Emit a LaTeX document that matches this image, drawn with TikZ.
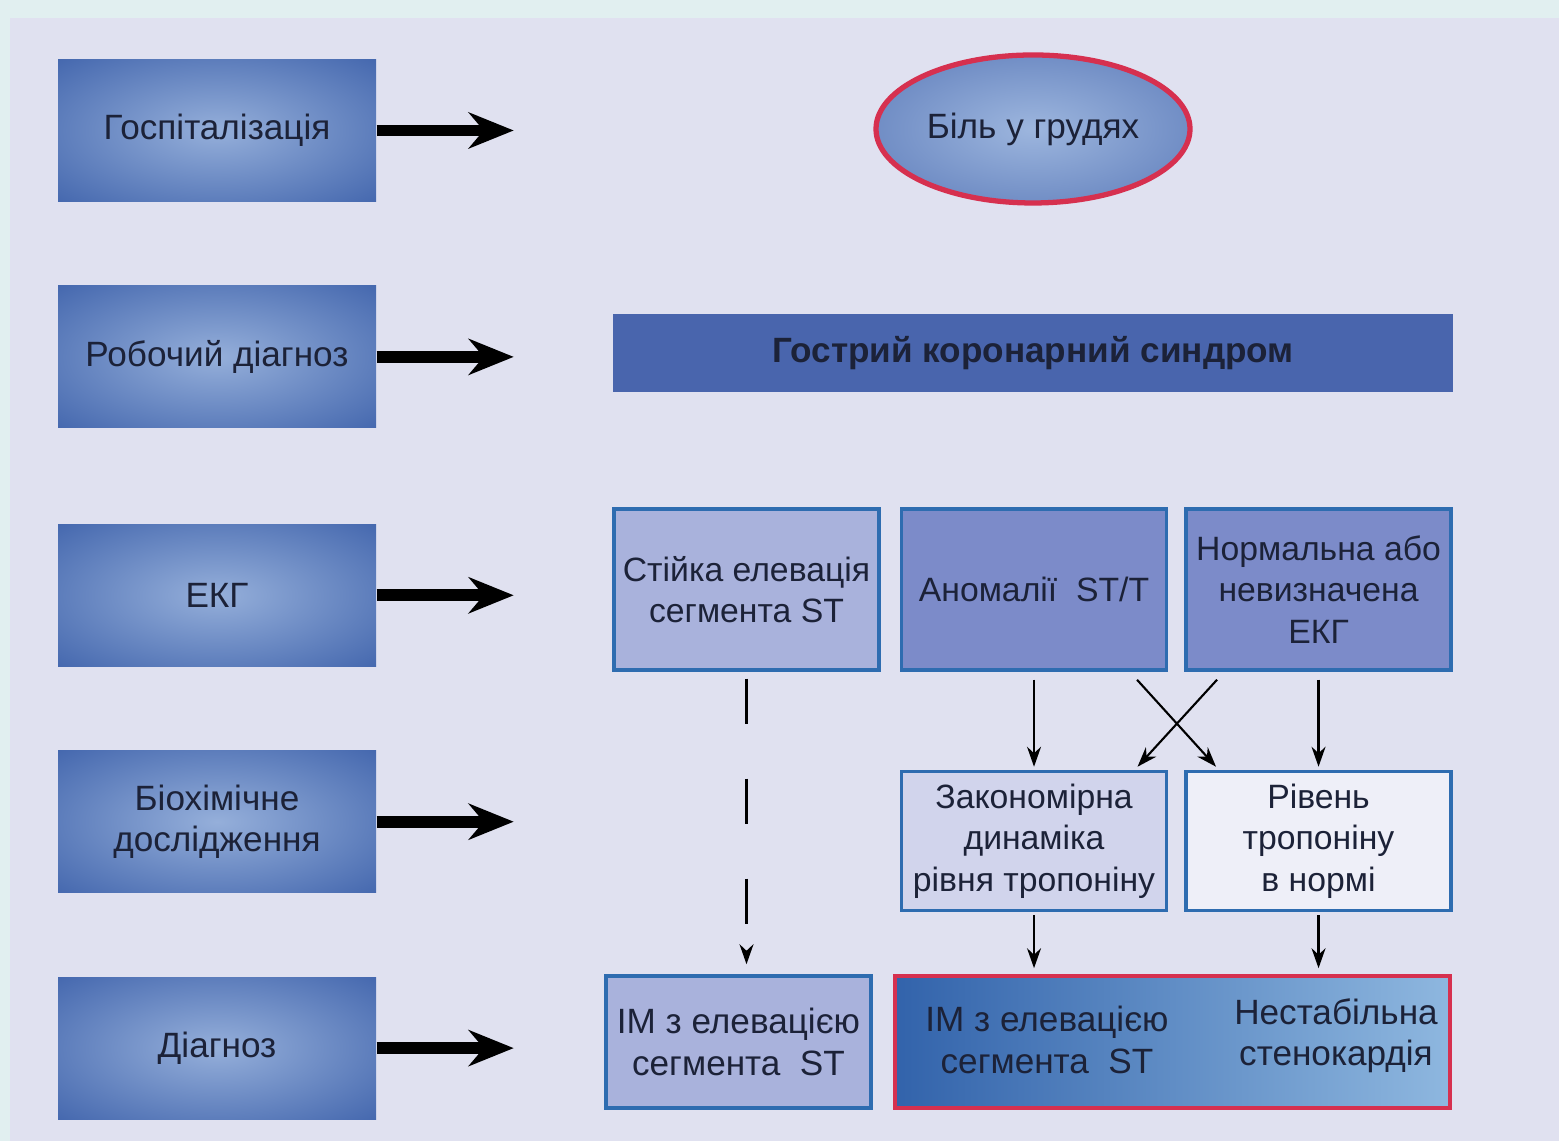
\documentclass[tikz,border=0pt]{standalone}
\usepackage{fontspec}
\setmainfont{Liberation Sans}
\usetikzlibrary{shapes.geometric,arrows.meta,positioning}

\definecolor{bgouter}{HTML}{E1EFF0}
\definecolor{bginner}{HTML}{E0E1F0}
\definecolor{boxlight}{HTML}{95AFDA}
\definecolor{boxdark}{HTML}{3B5FA9}
\definecolor{ovallight}{HTML}{9DB6DE}
\definecolor{ovaldark}{HTML}{4D6DB1}
\definecolor{redline}{HTML}{D6304F}
\definecolor{acsblue}{HTML}{4965AD}
\definecolor{frameblue}{HTML}{2E6CB0}
\definecolor{paleblue}{HTML}{A9B2DC}
\definecolor{midblue}{HTML}{7C8BC9}
\definecolor{faintblue}{HTML}{D1D4EC}
\definecolor{whiteblue}{HTML}{EEEFF8}
\definecolor{gradleft}{HTML}{3263AB}
\definecolor{gradright}{HTML}{8EB7DF}
\definecolor{inkblue}{HTML}{1C2238}

\pgfdeclareradialshading{stageglow}{\pgfpoint{0bp}{0bp}}{color(0bp)=(boxlight);
    color(40bp)=(boxdark); color(75bp)=(boxdark)}
\pgfdeclareradialshading{ovalglow}{\pgfpoint{0bp}{0bp}}{color(0bp)=(ovallight);
    color(45bp)=(ovaldark); color(75bp)=(ovaldark)}

\begin{document}
\begin{tikzpicture}[every node/.style={font=\fontsize{10}{11.8}\selectfont, text=inkblue}]
        \tikzstyle{stage} = [rectangle, minimum width=3.18cm, minimum height=1.42cm,
            align=center, shading=stageglow]
        \tikzstyle{ecg} = [rectangle, draw=frameblue, line width=1pt, align=center,
            inner sep=1pt, minimum width=2.65cm, minimum height=1.61cm,
            font=\fontsize{9.6}{11.8}\selectfont]
        \tikzstyle{bigarrow} = [-{Stealth[length=4.5mm, width=3.6mm, inset=1.5mm]}, line width=3.4pt]
        \tikzstyle{arrow} = [-{Stealth[length=2mm, width=1.4mm]}, line width=0.6pt]

        \useasboundingbox (0,0) rectangle (15.59,11.41);
        \fill[bgouter] (0,0) rectangle (15.59,11.41);
        \fill[bginner] (0.10,0) rectangle (15.59,11.23);

        % stages on the left
        \node (hosp) [stage] at (2.17,10.105) {Госпіталізація};
        \node (work) [stage, below=0.83cm of hosp] {Робочий діагноз};
        \node (ekg) [stage, below=0.95cm of work] {ЕКГ};
        \node (bio) [stage, below=0.83cm of ekg] {Біохімічне\\дослідження};
        \node (diag) [stage, below=0.83cm of bio] {Діагноз};

        \foreach \n in {hosp,work,ekg,bio,diag} {
            \coordinate (\n-tip) at ([xshift=1.37cm]\n.east);
            \draw [bigarrow] (\n) -- (\n-tip);
        }

        % right side
        \node (pain) [ellipse, draw=redline, line width=1.5pt, inner sep=0pt, minimum width=3.14cm,
            minimum height=1.48cm, shading=ovalglow] at (10.33,10.12) {Біль у грудях};
        \node (acs) [rectangle, fill=acsblue, minimum width=8.4cm, minimum height=0.78cm,
            font=\fontsize{10}{11.8}\selectfont\bfseries] at (10.33,7.88) {Гострий коронарний синдром};

        \node (stelev) [ecg, fill=paleblue] at (7.465,5.515) {Стійка елевація\\сегмента ST};
        \node (stt) [ecg, fill=midblue, right=0.19cm of stelev] {Аномалії~ ST/T};
        \node (normal) [ecg, fill=midblue, right=0.16cm of stt] {Нормальна або\\невизначена\\ЕКГ};

        \node (tropdyn) [ecg, fill=faintblue, minimum height=1.39cm, below=0.98cm of stt]
            {Закономірна\\динаміка\\рівня тропоніну};
        \node (tropnorm) [ecg, fill=whiteblue, minimum height=1.39cm, below=0.98cm of normal]
            {Рівень\\тропоніну\\в нормі};

        \node (stemi) [ecg, fill=paleblue, minimum height=1.32cm,
            font=\fontsize{10}{11.8}\selectfont] at (7.385,0.99) {ІМ з елевацією\\сегмента~ ST};
        \node (acsdx) [rectangle, draw=redline, line width=1pt, minimum width=5.55cm,
            minimum height=1.32cm, left color=gradleft, right color=gradright] at (11.725,0.99) {};
        \node (nstemi) at (10.47,1.01) [align=center] {ІМ з елевацією\\сегмента~ ST};
        \node (unstable) at (13.36,1.05) [align=center] {Нестабільна\\стенокардія};

        \draw [arrow, dash pattern=on 0.45cm off 0.55cm, shorten <=0.07cm, shorten >=0.1cm]
            (stelev.south) -- (stelev.south |- stemi.north);
        \draw [arrow, shorten <=0.08cm, shorten >=0.03cm] (stt.south) -- (tropdyn.north);
        \draw [arrow, shorten <=0.08cm, shorten >=0.03cm] (normal.south) -- (tropnorm.north);
        \draw [arrow] ([shift={(1.03,-0.08)}]stt.south) -- ([shift={(-1.025,0.03)}]tropnorm.north);
        \draw [arrow] ([shift={(-1.015,-0.08)}]normal.south) -- ([shift={(1.035,0.03)}]tropdyn.north);
        \draw [arrow, shorten <=0.03cm, shorten >=0.06cm] (tropdyn.south) -- (tropdyn.south |- acsdx.north);
        \draw [arrow, shorten <=0.03cm, shorten >=0.06cm] (tropnorm.south) -- (tropnorm.south |- acsdx.north);
    \end{tikzpicture}
\end{document}
